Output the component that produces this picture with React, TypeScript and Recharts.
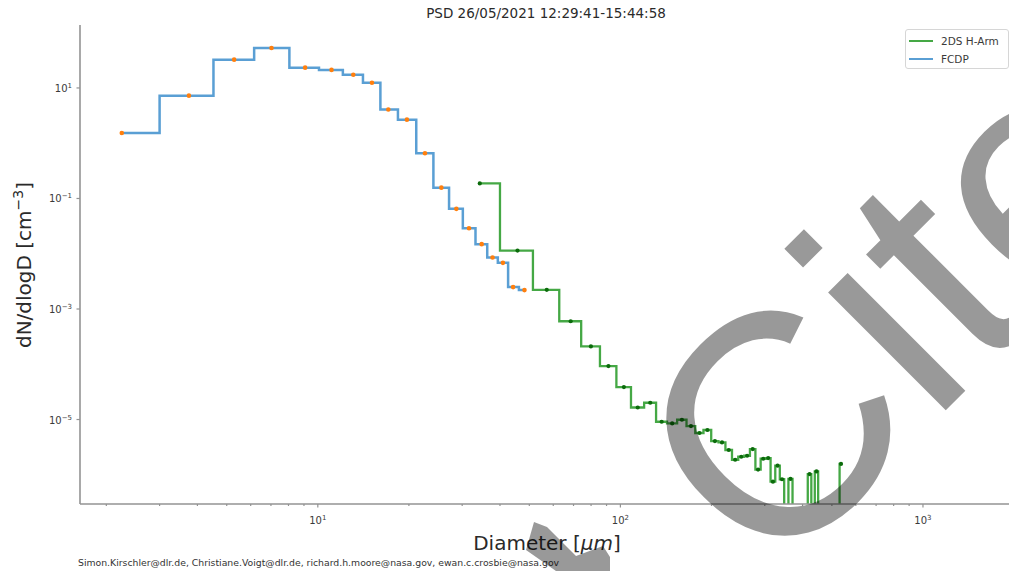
import React from 'react';
import { ComposedChart, Line, Scatter, XAxis, YAxis, Legend } from 'recharts';

// ---- data ----
const fcdpDiameter = [2.25, 3.75, 5.29, 7.03, 9.08, 11.1, 13.1, 15.1, 17.1, 19.7, 22.6, 25.6, 28.7, 31.6, 34.8, 37.8, 40.9, 44.2, 48.2];
const fcdpConc = [1.53, 7.26, 32.5, 52.9, 23.3, 21.2, 17.3, 12.4, 4.08, 2.67, 0.659, 0.157, 0.0649, 0.029, 0.0149, 0.00853, 0.00684, 0.00249, 0.0022];

const twoDSDiameter = [34.3, 45.7, 57.1, 68.5, 79.9, 91.3, 102.7, 114.1, 125.5, 136.9, 148.3, 159.7, 171.1, 182.5, 193.9, 205.3, 216.7, 228.1, 239.5, 250.9, 262.3, 273.7, 285.1, 296.5, 307.9, 319.3, 330.7, 342.1, 353.5, 364.9, 376.3, 387.7, 399.1, 410.5, 421.9, 433.3, 444.7, 456.1, 467.5, 478.9, 490.3, 501.7, 513.1, 524.5, 535.9];
const twoDSConc = [0.1875, 0.01143, 0.002223, 0.0006, 0.00021, 9.27e-5, 3.87e-5, 1.65e-5, 2.01e-5, 9.12e-6, 8.5e-6, 9.9e-6, 7.6e-6, 5.7e-6, 6.46e-6, 4.08e-6, 3.85e-6, 2.81e-6, 1.87e-6, 2.12e-6, 2.21e-6, 2.92e-6, 1.24e-6, 1.95e-6, 2.01e-6, 7.5e-7, 1.46e-6, 8.3e-7, 0, 8.4e-7, 0, 0, 0, 0, 1.03e-6, 0, 1.15e-6, 0, 0, 0, 0, 0, 0, 0, 1.57e-6];

const seriesNames = ['2DS H-Arm', 'FCDP'];
const xMajorTicks = [10, 100, 1000];
const xMinorTicks = [2, 3, 4, 5, 6, 7, 8, 9, 20, 30, 40, 50, 60, 70, 80, 90, 200, 300, 400, 500, 600, 700, 800, 900];
const xTickExponents = ['1', '2', '3'];
const yTicks = [1e-5, 1e-3, 1e-1, 10];
const yTickExponents = ['−5', '−3', '−1', '1'];

const titleText = 'PSD 26/05/2021 12:29:41-15:44:58';
const footerText = 'Simon.Kirschler@dlr.de, Christiane.Voigt@dlr.de, richard.h.moore@nasa.gov, ewan.c.crosbie@nasa.gov';
const watermarkText = 'Cite';

// ---- styling ----
const X_MIN = 1.637;
const X_MAX = 1969;
const Y_MIN = 2.96e-7;
const Y_MAX = 137.8;
const FLOOR = 1e-12;
const SPINE = '#939393';
const TEXT = '#3a3a3a';
const BLUE = '#5a9fd4';
const ORANGE = '#ff7f0e';
const GREEN = '#45a845';
const DKGREEN = '#0b6b0b';
const FONT = 'DejaVu Sans, Verdana, sans-serif';

function stepMid(xs: number[], ys: number[]) {
  const v = (y: number) => (y > 0 ? y : FLOOR);
  const pts: { x: number; y: number }[] = [{ x: xs[0], y: v(ys[0]) }];
  for (let i = 1; i < xs.length; i++) {
    const m = (xs[i - 1] + xs[i]) / 2;
    pts.push({ x: m, y: v(ys[i - 1]) });
    pts.push({ x: m, y: v(ys[i]) });
    pts.push({ x: xs[i], y: v(ys[i]) });
  }
  return pts;
}
function points(xs: number[], ys: number[]) {
  return xs.map((x, i) => ({ x, y: ys[i] })).filter((p) => p.y > 0);
}

const fcdpStep = stepMid(fcdpDiameter, fcdpConc);
const fcdpPts = points(fcdpDiameter, fcdpConc);
const twoDSStep = stepMid(twoDSDiameter, twoDSConc);
const twoDSPts = points(twoDSDiameter, twoDSConc);
const xTicks = [...xMinorTicks, ...xMajorTicks].sort((a, b) => a - b);

const XTick = (props: any) => {
  const { x, y, payload } = props;
  const idx = xMajorTicks.indexOf(payload.value);
  const major = idx >= 0;
  return (
    <g>
      <line x1={x} x2={x} y1={y} y2={y + (major ? 3.5 : 2)} stroke={SPINE} strokeWidth={1.2} />
      {major && (
        <text x={x} y={y + 20} textAnchor="middle" fontSize={10} fill={TEXT} fontFamily={FONT}>
          <tspan>10</tspan>
          <tspan dy={-4} fontSize={7}>{xTickExponents[idx]}</tspan>
        </text>
      )}
    </g>
  );
};

const YTick = (props: any) => {
  const { x, y, payload } = props;
  const idx = yTicks.indexOf(payload.value);
  return (
    <g>
      <line x1={x - 3.5} x2={x} y1={y} y2={y} stroke={SPINE} strokeWidth={1.2} />
      <text x={x - 8} y={y + 4} textAnchor="end" fontSize={10} fill={TEXT} fontFamily={FONT}>
        <tspan>10</tspan>
        <tspan dy={-4} fontSize={7}>{yTickExponents[idx]}</tspan>
      </text>
    </g>
  );
};

const LegendBox = () => (
  <div
    style={{
      width: 104,
      height: 40,
      boxSizing: 'border-box',
      border: '1px solid #d6d6d6',
      borderRadius: 3,
      background: 'rgba(255,255,255,0.85)',
      fontFamily: FONT,
      fontSize: 10.5,
      color: TEXT,
      position: 'relative',
    }}
  >
    {seriesNames.map((n, i) => (
      <div key={n} style={{ position: 'absolute', left: 3, top: 4 + i * 17.6, height: 14, display: 'flex', alignItems: 'center', whiteSpace: 'nowrap' }}>
        <span style={{ display: 'inline-block', width: 24, height: 2.2, background: i === 0 ? GREEN : BLUE, marginRight: 8 }} />
        <span>{n}</span>
      </div>
    ))}
  </div>
);

const dotShape = (color: string, r: number) => (p: any) => <circle cx={p.cx} cy={p.cy} r={r} fill={color} />;

export default function App() {
  return (
    <div style={{ position: 'absolute', left: 0, top: 0, width: 1009, height: 571, overflow: 'hidden', background: '#fff' }}>
      <ComposedChart width={1030} height={571} margin={{ top: 25, right: 18, bottom: 37, left: 0 }}>
        <XAxis
          dataKey="x"
          type="number"
          scale="log"
          domain={[X_MIN, X_MAX]}
          allowDataOverflow
          ticks={xTicks}
          interval={0}
          tick={<XTick />}
          tickLine={false}
          tickSize={0}
          tickMargin={0}
          axisLine={{ stroke: SPINE, strokeWidth: 1.6 }}
          height={30}
        />
        <XAxis
          xAxisId="top"
          orientation="top"
          dataKey="x"
          type="number"
          scale="log"
          domain={[X_MIN, X_MAX]}
          allowDataOverflow
          tick={false}
          tickLine={false}
          axisLine={{ stroke: SPINE, strokeWidth: 1.6 }}
          height={0}
        />
        <YAxis
          dataKey="y"
          type="number"
          scale="log"
          domain={[Y_MIN, Y_MAX]}
          allowDataOverflow
          ticks={yTicks}
          interval={0}
          tick={<YTick />}
          tickLine={false}
          tickSize={0}
          tickMargin={0}
          axisLine={{ stroke: SPINE, strokeWidth: 1.6 }}
          width={80}
        />
        <Legend
          layout="vertical"
          align="center"
          verticalAlign="middle"
          content={<LegendBox />}
          wrapperStyle={{ position: 'absolute', left: 905, top: 29, width: 104, height: 40 }}
        />
        <Line data={twoDSStep} dataKey="y" type="linear" stroke={GREEN} strokeWidth={2.3} dot={false} activeDot={false} isAnimationActive={false} name="2DS H-Arm" />
        <Line data={fcdpStep} dataKey="y" type="linear" stroke={BLUE} strokeWidth={2.5} dot={false} activeDot={false} isAnimationActive={false} name="FCDP" />
        <Scatter data={fcdpPts} dataKey="y" fill={ORANGE} shape={dotShape(ORANGE, 2.3)} isAnimationActive={false} />
        <Scatter data={twoDSPts} dataKey="y" fill={DKGREEN} shape={dotShape(DKGREEN, 2.1)} isAnimationActive={false} />
      </ComposedChart>
      <svg width={1009} height={571} style={{ position: 'absolute', left: 0, top: 0, pointerEvents: 'none' }}>
        <text x={546} y={18} textAnchor="middle" fontSize={13.5} fill="#2a2a2a" fontFamily={FONT}>{titleText}</text>
        <text x={547} y={550} textAnchor="middle" fontSize={20} fill="#2a2a2a" fontFamily={FONT}>
          <tspan>Diameter [</tspan>
          <tspan fontStyle="italic">μm</tspan>
          <tspan>]</tspan>
        </text>
        <text x={31} y={265} transform="rotate(-90, 31, 265)" textAnchor="middle" fontSize={20} fill="#2a2a2a" fontFamily={FONT}>
          <tspan>dN/dlogD [cm</tspan>
          <tspan dy={-8} fontSize={14}>−3</tspan>
          <tspan dy={8}>]</tspan>
        </text>
        <text x={78} y={566} fontSize={9.3} fill="#333" fontFamily={FONT}>{footerText}</text>
        <text x={770} y={586} transform="rotate(-45, 770, 586)" fontSize={315} fill="#000" fillOpacity={0.4} fontFamily="Liberation Sans, Arial, sans-serif">{watermarkText}</text>
        <path d="M526,550 L534,522 L547,527 L576,556 L603,546 L610,557 L610,571 L556,571 Z" fill="#000" fillOpacity={0.4} />
      </svg>
    </div>
  );
}
